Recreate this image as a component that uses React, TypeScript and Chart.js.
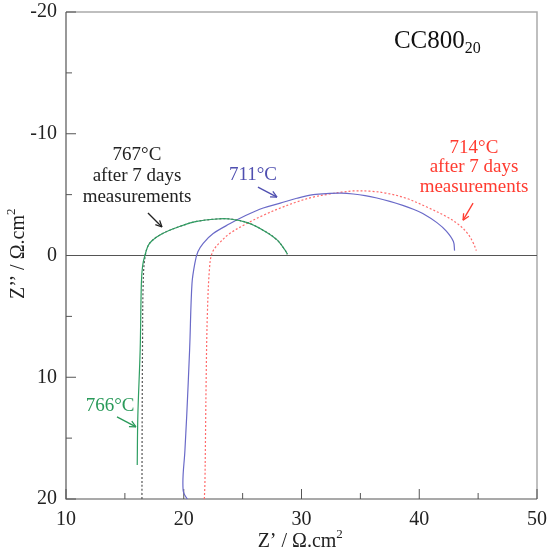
import React, { useEffect, useRef } from "react";
import { Chart, registerables } from "chart.js";

Chart.register(...registerables);

// ---- data ----
const green766X = [16.05, 16.1, 16.3, 16.4, 16.5, 16.7, 17.1, 18.2, 19.7, 21.1, 22.8, 23.9, 25.4, 26.7, 27.9, 28.6, 28.8];
const green766Y = [17.2, 13.2, 7.7, 2.3, 0.9, 0, -1.0, -1.8, -2.4, -2.8, -3.0, -3.0, -2.7, -2.1, -1.3, -0.45, -0.1];

const black767X = [16.45, 16.47, 16.5, 16.55, 16.7, 17.1, 18.2, 19.7, 21.1, 22.8, 23.9, 25.4, 26.7, 27.9, 28.6, 28.8];
const black767Y = [20, 13, 7, 2.5, 0.2, -1.0, -1.8, -2.4, -2.8, -3.0, -3.0, -2.7, -2.1, -1.3, -0.45, -0.1];

const blue711X = [20.5, 19.95, 20.1, 20.25, 20.5, 20.7, 20.95, 21.2, 21.65, 22.5, 23.9, 25.3, 26.75, 28.2, 29.6, 31.0, 32.4, 33.4, 34.4, 35.4, 36.4, 37.5, 38.6, 39.5, 40.3, 41.5, 42.3, 42.9, 43.0];
const blue711Y = [20.3, 19.3, 16, 13.2, 7.7, 2.3, 0.6, -0.3, -1.0, -1.8, -2.6, -3.3, -3.9, -4.3, -4.7, -5.0, -5.1, -5.12, -5.05, -4.92, -4.72, -4.45, -4.12, -3.8, -3.45, -2.7, -2.0, -1.15, -0.4];

const red714X = [21.75, 21.8, 21.9, 22.0, 22.2, 22.45, 23.1, 23.9, 25.3, 26.75, 28.2, 29.6, 31.0, 32.4, 33.4, 34.4, 35.8, 37.2, 38.9, 40.6, 42.3, 43.4, 44.15, 44.6, 44.85];
const red714Y = [20, 18.6, 10.4, 5.0, 0.9, -0.3, -1.1, -1.8, -2.6, -3.3, -3.9, -4.4, -4.8, -5.05, -5.2, -5.3, -5.28, -5.12, -4.7, -4.0, -3.2, -2.5, -1.75, -1.0, -0.4];

const xTickLabels = [10, 20, 30, 40, 50];
const yTickLabels = [-20, -10, 0, 10, 20];
const xMinorTicks = [15, 25, 35, 45];
const yMinorTicks = [-15, -5, 5, 15];

const SERIF = "'Liberation Serif', 'DejaVu Serif', serif";

const toPts = (xs: number[], ys: number[]) => xs.map((x, i) => ({ x, y: ys[i] }));

function arrow(ctx: CanvasRenderingContext2D, x1: number, y1: number, x2: number, y2: number, color: string) {
  ctx.save();
  ctx.strokeStyle = color;
  ctx.fillStyle = color;
  ctx.lineWidth = 1.3;
  ctx.beginPath();
  ctx.moveTo(x1, y1);
  ctx.lineTo(x2, y2);
  ctx.stroke();
  const a = Math.atan2(y2 - y1, x2 - x1);
  const L = 7;
  ctx.beginPath();
  ctx.moveTo(x2, y2);
  ctx.lineTo(x2 - L * Math.cos(a - 0.45), y2 - L * Math.sin(a - 0.45));
  ctx.moveTo(x2, y2);
  ctx.lineTo(x2 - L * Math.cos(a + 0.45), y2 - L * Math.sin(a + 0.45));
  ctx.stroke();
  ctx.restore();
}

const decorPlugin = {
  id: "decor",
  beforeDatasetsDraw(chart: any) {
    const { ctx, chartArea: ca, scales } = chart;
    const xs = scales.x;
    const ys = scales.y;
    ctx.save();
    ctx.strokeStyle = "#aaaaaa";
    ctx.lineWidth = 1.5;
    ctx.beginPath();
    ctx.moveTo(ca.left, ca.top);
    ctx.lineTo(ca.right, ca.top);
    ctx.lineTo(ca.right, ca.bottom);
    ctx.stroke();
    ctx.strokeStyle = "#555555";
    ctx.lineWidth = 1.2;
    ctx.beginPath();
    ctx.moveTo(ca.left, ca.top);
    ctx.lineTo(ca.left, ca.bottom);
    ctx.lineTo(ca.right, ca.bottom);
    ctx.stroke();
    const y0 = ys.getPixelForValue(0);
    ctx.beginPath();
    ctx.moveTo(ca.left, y0);
    ctx.lineTo(ca.right, y0);
    ctx.stroke();
    ctx.lineWidth = 1;
    ctx.beginPath();
    xTickLabels.forEach((v) => {
      const p = xs.getPixelForValue(v);
      ctx.moveTo(p, ca.bottom);
      ctx.lineTo(p, ca.bottom - 10);
    });
    xMinorTicks.forEach((v) => {
      const p = xs.getPixelForValue(v);
      ctx.moveTo(p, ca.bottom);
      ctx.lineTo(p, ca.bottom - 6);
    });
    yTickLabels.forEach((v) => {
      const p = ys.getPixelForValue(v);
      ctx.moveTo(ca.left, p);
      ctx.lineTo(ca.left + 10, p);
    });
    yMinorTicks.forEach((v) => {
      const p = ys.getPixelForValue(v);
      ctx.moveTo(ca.left, p);
      ctx.lineTo(ca.left + 6, p);
    });
    ctx.stroke();
    ctx.restore();
  },
  afterDraw(chart: any) {
    const { ctx, scales } = chart;
    const xs = scales.x;
    const ys = scales.y;
    const X = (v: number) => xs.getPixelForValue(v);
    const Y = (v: number) => ys.getPixelForValue(v);
    ctx.save();
    ctx.textAlign = "center";
    ctx.textBaseline = "middle";
    ctx.font = `19px ${SERIF}`;

    ctx.fillStyle = "#222222";
    ctx.fillText("767°C", X(16.03), Y(-8.24));
    ctx.fillText("after 7 days", X(16.03), Y(-6.52));
    ctx.fillText("measurements", X(16.03), Y(-4.8));
    arrow(ctx, X(16.96), Y(-3.49), X(18.15), Y(-2.34), "#222222");

    ctx.fillStyle = "#4f4fb0";
    ctx.fillText("711°C", X(25.88), Y(-6.6));
    arrow(ctx, X(26.3), Y(-5.62), X(27.92), Y(-4.8), "#4f4fb0");

    ctx.fillStyle = "#ff3b30";
    ctx.fillText("714°C", X(44.65), Y(-8.82));
    ctx.fillText("after 7 days", X(44.65), Y(-7.3));
    ctx.fillText("measurements", X(44.65), Y(-5.6));
    arrow(ctx, X(44.57), Y(-4.3), X(43.72), Y(-2.9), "#ff3b30");

    ctx.fillStyle = "#2a9a5a";
    ctx.fillText("766°C", X(13.74), Y(12.35));
    arrow(ctx, X(14.33), Y(13.25), X(15.94), Y(14.07), "#2a9a5a");

    ctx.fillStyle = "#111111";
    ctx.textAlign = "left";
    ctx.font = `25px ${SERIF}`;
    const lx = X(37.85);
    const ly = Y(-17.6);
    ctx.fillText("CC800", lx, ly);
    const w = ctx.measureText("CC800").width;
    ctx.font = `16px ${SERIF}`;
    ctx.fillText("20", lx + w, ly + 8);

    ctx.fillStyle = "#222222";
    ctx.font = `20px ${SERIF}`;
    const xt = "Z’ / Ω.cm";
    const xtw = ctx.measureText(xt).width;
    const xcx = 302;
    const xcy = 542;
    ctx.textAlign = "left";
    ctx.fillText(xt, xcx - xtw / 2 - 5, xcy);
    ctx.font = `13px ${SERIF}`;
    ctx.fillText("2", xcx + xtw / 2 - 5, xcy - 7);

    ctx.translate(19, 252);
    ctx.rotate(-Math.PI / 2);
    ctx.font = `20px ${SERIF}`;
    const yt = "Z’’ / Ω.cm";
    const ytw = ctx.measureText(yt).width;
    ctx.fillText(yt, -ytw / 2 - 5, 0);
    ctx.font = `13px ${SERIF}`;
    ctx.fillText("2", ytw / 2 - 5, -7);
    ctx.restore();
  },
};

export default function App() {
  const ref = useRef<HTMLCanvasElement | null>(null);
  useEffect(() => {
    if (!ref.current) return;
    const chart = new Chart(ref.current, {
      type: "scatter",
      data: {
        datasets: [
          {
            label: "766°C",
            data: toPts(green766X, green766Y),
            showLine: true,
            borderColor: "#2e9e62",
            borderWidth: 1.2,
            pointRadius: 0,
            tension: 0.35,
          },
          {
            label: "767°C after 7 days measurements",
            data: toPts(black767X, black767Y),
            showLine: true,
            borderColor: "#555555",
            borderWidth: 1.2,
            borderDash: [2, 2],
            pointRadius: 0,
            tension: 0.35,
          },
          {
            label: "711°C",
            data: toPts(blue711X, blue711Y),
            showLine: true,
            borderColor: "#6a6ac8",
            borderWidth: 1.2,
            pointRadius: 0,
            tension: 0.35,
          },
          {
            label: "714°C after 7 days measurements",
            data: toPts(red714X, red714Y),
            showLine: true,
            borderColor: "#ff6b6b",
            borderWidth: 1.2,
            borderDash: [2, 2],
            pointRadius: 0,
            tension: 0.35,
          },
        ],
      },
      options: {
        animation: false,
        responsive: false,
        layout: { padding: { top: 12, right: 13, left: 0, bottom: 0 } },
        plugins: { legend: { display: false }, tooltip: { enabled: false } },
        scales: {
          x: {
            type: "linear",
            min: 10,
            max: 50,
            grid: { display: false, drawTicks: false },
            border: { display: false },
            afterFit: (s: any) => {
              s.height = 58;
              s.paddingLeft = 0;
              s.paddingRight = 0;
            },
            ticks: {
              stepSize: 10,
              padding: 9,
              color: "#222222",
              font: { family: SERIF, size: 20 },
            },
          },
          y: {
            type: "linear",
            min: -20,
            max: 20,
            reverse: true,
            grid: { display: false, drawTicks: false },
            border: { display: false },
            afterFit: (s: any) => {
              s.width = 66;
              s.paddingTop = 0;
              s.paddingBottom = 0;
            },
            ticks: {
              stepSize: 10,
              padding: 9,
              color: "#222222",
              font: { family: SERIF, size: 20 },
            },
          },
        },
      },
      plugins: [decorPlugin],
    } as any);
    return () => chart.destroy();
  }, []);
  return (
    <div style={{ position: "absolute", left: 0, top: 0, width: 550, height: 557, background: "#fff" }}>
      <canvas ref={ref} width={550} height={557} />
    </div>
  );
}
